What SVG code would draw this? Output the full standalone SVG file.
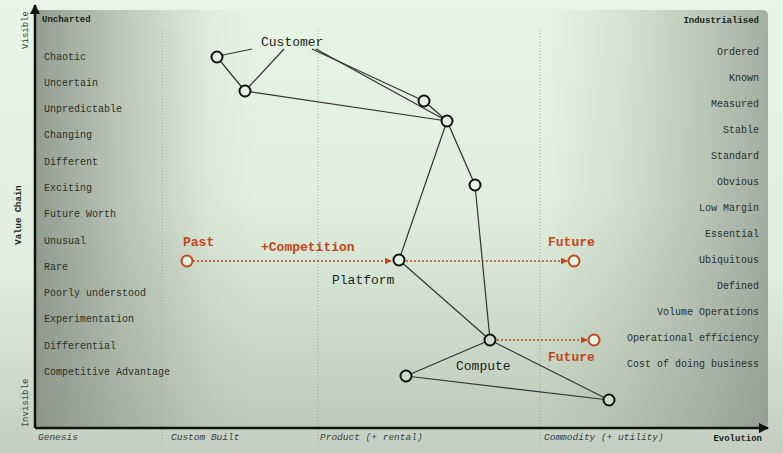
<svg xmlns="http://www.w3.org/2000/svg" width="783" height="453" viewBox="0 0 783 453">
<defs>
<linearGradient id="bg" x1="0" y1="0" x2="0" y2="1">
<stop offset="0" stop-color="#e6f5e5"/><stop offset="0.6" stop-color="#dfeedd"/><stop offset="1" stop-color="#c3cec1"/>
</linearGradient>
<linearGradient id="ph" x1="0" y1="0" x2="1" y2="0">
<stop offset="0" stop-color="#939e90"/><stop offset="0.12" stop-color="#bdc9b9"/><stop offset="0.24" stop-color="#e0eedd"/><stop offset="0.3" stop-color="#e6f5e3"/><stop offset="0.7" stop-color="#e6f5e3"/><stop offset="0.8" stop-color="#d6e4d3"/><stop offset="0.92" stop-color="#bac7b7"/><stop offset="1" stop-color="#a3afa0"/>
</linearGradient>
<linearGradient id="pv" x1="0" y1="0" x2="0" y2="1">
<stop offset="0" stop-color="#7f8a7c" stop-opacity="0"/><stop offset="0.45" stop-color="#7f8a7c" stop-opacity="0.05"/><stop offset="1" stop-color="#7f8a7c" stop-opacity="0.4"/>
</linearGradient>
<marker id="ah" viewBox="0 0 10 10" refX="9" refY="5" markerWidth="10" markerHeight="10" markerUnits="userSpaceOnUse" orient="auto">
<path d="M0,0 L10,5 L0,10 Z" fill="#111"/>
</marker>
<marker id="ra" viewBox="0 0 10 10" refX="9" refY="5" markerWidth="7" markerHeight="7" markerUnits="userSpaceOnUse" orient="auto">
<path d="M0,0 L10,5 L0,10 Z" fill="#c4451c"/>
</marker>
<style>
.lbl{font-family:"Liberation Mono","Courier New",monospace;font-size:10px;fill:#2b302b}
.r{text-anchor:end}
.hd{font-family:"Liberation Mono","Courier New",monospace;font-size:9px;font-weight:bold;fill:#1a1f1a}
.ax{font-family:"Liberation Mono","Courier New",monospace;font-size:9px;fill:#3a403a}
.st{font-family:"Liberation Mono","Courier New",monospace;font-size:9.5px;font-style:italic;fill:#3a403a}
.nm{font-family:"Liberation Mono","Courier New",monospace;font-size:13px;fill:#222}
.red{font-family:"Liberation Mono","Courier New",monospace;font-size:13px;font-weight:bold;fill:#c4451c}
.ln{stroke:#333;stroke-width:1.2;fill:none}
.dot{stroke:#9aa597;stroke-width:1;stroke-dasharray:1 2;fill:none}
.rd{stroke:#c4451c;stroke-width:1.3;stroke-dasharray:2 2;fill:none}
.nd{stroke:#111;stroke-width:2;fill:#e4f2e1}
.nd2{stroke:#111;stroke-width:2;fill:#cfdacb}
.rn{stroke:#c4451c;stroke-width:2;fill:#e4f2e1}
</style>
</defs>
<rect x="0" y="0" width="783" height="453" fill="url(#bg)"/>
<path d="M35,10 H762 Q768,10 768,16 V422 Q768,428 762,428 H35 Z" fill="url(#ph)"/>
<path d="M35,10 H762 Q768,10 768,16 V422 Q768,428 762,428 H35 Z" fill="url(#pv)"/>
<g id="stages">
<line class="dot" x1="162" y1="30" x2="162" y2="446"/>
<line class="dot" x1="318" y1="30" x2="318" y2="446"/>
<line class="dot" x1="540" y1="30" x2="540" y2="446"/>
</g>
<g id="axes">
<line x1="35" y1="428" x2="768" y2="428" stroke="#111" stroke-width="2.5" marker-end="url(#ah)"/>
<line x1="35" y1="428" x2="35" y2="5" stroke="#111" stroke-width="2.5" marker-end="url(#ah)"/>
<text class="ax" transform="translate(28,30) rotate(-90)" text-anchor="middle">Visible</text>
<text class="hd" transform="translate(21,215) rotate(-90)" text-anchor="middle">Value Chain</text>
<text class="ax" transform="translate(28,403) rotate(-90)" text-anchor="middle">Invisible</text>
<text class="st" x="38" y="440">Genesis</text>
<text class="st" x="171" y="440">Custom Built</text>
<text class="st" x="320" y="440">Product (+ rental)</text>
<text class="st" x="544" y="440">Commodity (+ utility)</text>
<text class="hd" x="762" y="441" text-anchor="end">Evolution</text>
</g>
<g id="left-labels">
<text class="hd" x="42" y="22">Uncharted</text>
<text class="lbl" x="44" y="60">Chaotic</text>
<text class="lbl" x="44" y="86">Uncertain</text>
<text class="lbl" x="44" y="112">Unpredictable</text>
<text class="lbl" x="44" y="138">Changing</text>
<text class="lbl" x="44" y="165">Different</text>
<text class="lbl" x="44" y="191">Exciting</text>
<text class="lbl" x="44" y="217">Future Worth</text>
<text class="lbl" x="44" y="244">Unusual</text>
<text class="lbl" x="44" y="270">Rare</text>
<text class="lbl" x="44" y="296">Poorly understood</text>
<text class="lbl" x="44" y="322">Experimentation</text>
<text class="lbl" x="44" y="349">Differential</text>
<text class="lbl" x="44" y="375">Competitive Advantage</text>
</g>
<g id="right-labels">
<text class="hd r" x="759" y="23">Industrialised</text>
<text class="lbl r" x="759" y="55">Ordered</text>
<text class="lbl r" x="759" y="81">Known</text>
<text class="lbl r" x="759" y="107">Measured</text>
<text class="lbl r" x="759" y="133">Stable</text>
<text class="lbl r" x="759" y="159">Standard</text>
<text class="lbl r" x="759" y="185">Obvious</text>
<text class="lbl r" x="759" y="211">Low Margin</text>
<text class="lbl r" x="759" y="237">Essential</text>
<text class="lbl r" x="759" y="263">Ubiquitous</text>
<text class="lbl r" x="759" y="289">Defined</text>
<text class="lbl r" x="759" y="315">Volume Operations</text>
<text class="lbl r" x="759" y="341">Operational efficiency</text>
<text class="lbl r" x="759" y="367">Cost of doing business</text>
</g>
<g id="connectors">
<line class="ln" x1="223" y1="55" x2="252" y2="49"/>
<line class="ln" x1="284" y1="49" x2="245" y2="91"/>
<line class="ln" x1="217" y1="57" x2="245" y2="91"/>
<line class="ln" x1="312" y1="49" x2="424" y2="101"/>
<line class="ln" x1="316" y1="49" x2="447" y2="121"/>
<line class="ln" x1="245" y1="91" x2="447" y2="121"/>
<line class="ln" x1="424" y1="101" x2="447" y2="121"/>
<line class="ln" x1="447" y1="121" x2="475" y2="185"/>
<line class="ln" x1="447" y1="121" x2="399" y2="260"/>
<line class="ln" x1="475" y1="185" x2="490" y2="340"/>
<line class="ln" x1="399" y1="260" x2="490" y2="340"/>
<line class="ln" x1="490" y1="340" x2="406" y2="376"/>
<line class="ln" x1="490" y1="340" x2="609" y2="400"/>
<line class="ln" x1="406" y1="376" x2="609" y2="400"/>
<line class="rd" x1="193" y1="261" x2="391" y2="261" marker-end="url(#ra)"/>
<line class="rd" x1="406" y1="261" x2="567" y2="261" marker-end="url(#ra)"/>
<line class="rd" x1="497" y1="340" x2="587" y2="340" marker-end="url(#ra)"/>
</g>
<g id="customer"><text class="nm" x="261" y="46">Customer</text></g>
<g id="n1"><circle class="nd" cx="217" cy="57" r="5.5"/></g>
<g id="n2"><circle class="nd" cx="245" cy="91" r="5.5"/></g>
<g id="n3"><circle class="nd" cx="424" cy="101" r="5.5"/></g>
<g id="n4"><circle class="nd" cx="447" cy="121" r="5.5"/></g>
<g id="n5"><circle class="nd" cx="475" cy="185" r="5.5"/></g>
<g id="platform"><circle class="nd" cx="399" cy="260" r="5.5"/><text class="nm" x="332" y="284">Platform</text></g>
<g id="compute"><circle class="nd2" cx="490" cy="340" r="5.5"/><text class="nm" x="456" y="370">Compute</text></g>
<g id="n6"><circle class="nd2" cx="406" cy="376" r="5.5"/></g>
<g id="n7"><circle class="nd2" cx="609" cy="400" r="5.5"/></g>
<g id="past"><circle class="rn" cx="187" cy="261" r="5.5"/><text class="red" x="183" y="246">Past</text></g>
<g id="competition"><text class="red" x="261" y="251">+Competition</text></g>
<g id="future1"><circle class="rn" cx="574" cy="261" r="5.5"/><text class="red" x="548" y="246">Future</text></g>
<g id="future2"><circle class="rn" cx="594" cy="340" r="5.5"/><text class="red" x="548" y="361">Future</text></g>
</svg>
